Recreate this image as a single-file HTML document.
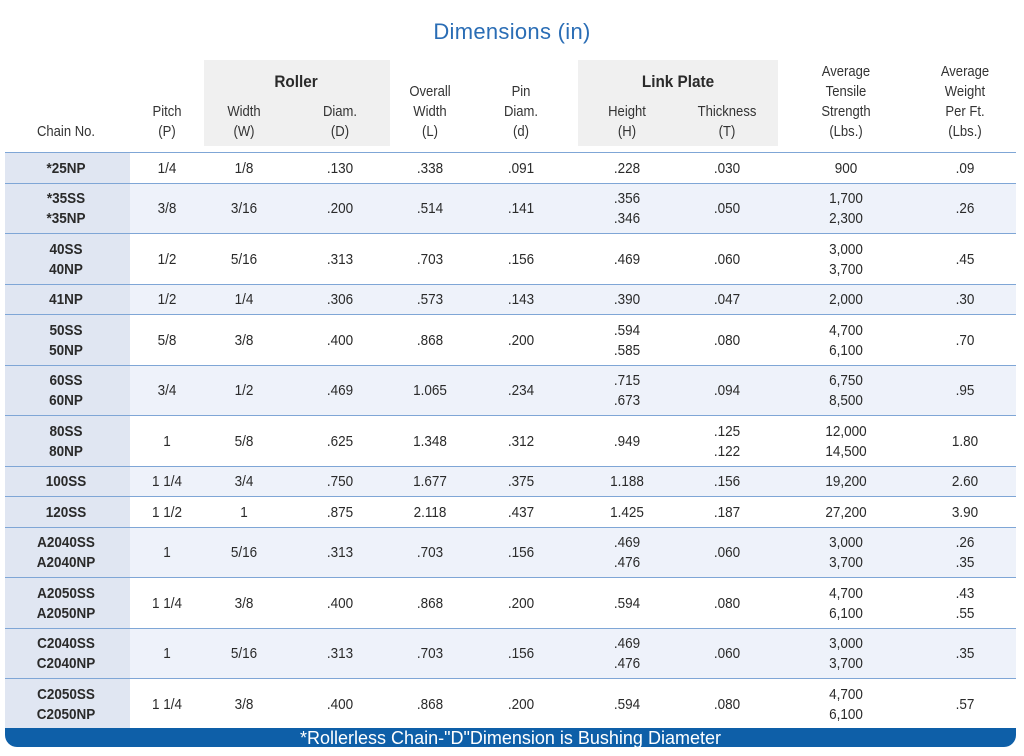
<!DOCTYPE html>
<html><head><meta charset="utf-8">
<style>
body{margin:0;width:1024px;height:756px;background:#fff;position:relative;overflow:hidden;font-family:"Liberation Sans",sans-serif;color:#2a2a2a}
.a{position:absolute}
.c{position:absolute;text-align:center;transform:translateX(-50%) scaleX(0.9);white-space:nowrap;font-size:15px;line-height:20px}
.h{color:#333;font-size:14.5px}
.row{position:absolute;left:5px;width:1011px;border-top:1.5px solid #7fa6d6;box-sizing:border-box}
.first{position:absolute;left:0;top:0;bottom:0;width:125px;background:#e0e6f2}
.b{font-weight:bold}
</style></head><body>
<div class="a" style="left:0;width:1024px;top:19px;text-align:center;font-size:22px;color:#2a6db5;letter-spacing:0.3px">Dimensions (in)</div>
<div class="a" style="left:204px;top:60px;width:186px;height:86px;background:#f0f0f0"></div>
<div class="a" style="left:578px;top:60px;width:200px;height:86px;background:#f0f0f0"></div>
<div class="c b" style="left:296px;top:72px;font-size:17px">Roller</div>
<div class="c b" style="left:678px;top:72px;font-size:17px">Link Plate</div>
<div id="hdr"></div>
<div id="rows"></div>
<div class="a" style="left:5px;top:728px;width:1011px;height:19px;background:#0e5fa8;border-radius:0 0 12px 12px;color:#fff;text-align:center;font-size:18px;line-height:21px">*Rollerless Chain-"D"Dimension is Bushing Diameter</div>
<script>
const centers=[66,167,244,340,430,521,627,727,846,965];
const headers=[["Chain No."],["Pitch","(P)"],["Width","(W)"],["Diam.","(D)"],["Overall","Width","(L)"],["Pin","Diam.","(d)"],["Height","(H)"],["Thickness","(T)"],["Average","Tensile","Strength","(Lbs.)"],["Average","Weight","Per Ft.","(Lbs.)"]];
const chains=[["*25NP"],["*35SS","*35NP"],["40SS","40NP"],["41NP"],["50SS","50NP"],["60SS","60NP"],["80SS","80NP"],["100SS"],["120SS"],["A2040SS","A2040NP"],["A2050SS","A2050NP"],["C2040SS","C2040NP"],["C2050SS","C2050NP"]];
const pitch=["1/4","3/8","1/2","1/2","5/8","3/4","1","1 1/4","1 1/2","1","1 1/4","1","1 1/4"];
const rwidth=["1/8","3/16","5/16","1/4","3/8","1/2","5/8","3/4","1","5/16","3/8","5/16","3/8"];
const rdiam=[".130",".200",".313",".306",".400",".469",".625",".750",".875",".313",".400",".313",".400"];
const overall=[".338",".514",".703",".573",".868","1.065","1.348","1.677","2.118",".703",".868",".703",".868"];
const pin=[".091",".141",".156",".143",".200",".234",".312",".375",".437",".156",".200",".156",".200"];
const height=[[".228"],[".356",".346"],[".469"],[".390"],[".594",".585"],[".715",".673"],[".949"],["1.188"],["1.425"],[".469",".476"],[".594"],[".469",".476"],[".594"]];
const thick=[[".030"],[".050"],[".060"],[".047"],[".080"],[".094"],[".125",".122"],[".156"],[".187"],[".060"],[".080"],[".060"],[".080"]];
const tensile=[["900"],["1,700","2,300"],["3,000","3,700"],["2,000"],["4,700","6,100"],["6,750","8,500"],["12,000","14,500"],["19,200"],["27,200"],["3,000","3,700"],["4,700","6,100"],["3,000","3,700"],["4,700","6,100"]];
const weight=[[".09"],[".26"],[".45"],[".30"],[".70"],[".95"],["1.80"],["2.60"],["3.90"],[".26",".35"],[".43",".55"],[".35"],[".57"]];
const hdr=document.getElementById('hdr');
headers.forEach((lines,i)=>{
  const d=document.createElement('div');
  
  
  d.className='c h';
  d.style.left=centers[i]+'px';
  d.style.top=(142-lines.length*20)+'px';
  d.innerHTML=lines.join('<br>');
  hdr.appendChild(d);
});
const rows=document.getElementById('rows');
let y=152;
chains.forEach((ch,r)=>{
  const cols=[ch,[pitch[r]],[rwidth[r]],[rdiam[r]],[overall[r]],[pin[r]],height[r],thick[r],tensile[r],weight[r]];
  const n=Math.max(...cols.map(c=>c.length));
  const h=n===2?50.5:30.5;
  const row=document.createElement('div');
  
  
  row.className='row';
  row.style.top=y+'px';row.style.height=h+'px';
  row.style.background=r%2?'#eef2fa':'#fff';
  const f=document.createElement('div');
  f.className='first';
  row.appendChild(f);
  cols.forEach((c,i)=>{
    const d=document.createElement('div');
    
    
    d.className='c'+(i===0?' b':'');
    d.style.left=(centers[i]-5)+'px';
    d.style.top=((h-1.5-c.length*20)/2+1)+'px';
    d.innerHTML=c.join('<br>');
    row.appendChild(d);
  });
  rows.appendChild(row);
  y+=h;
});
</script>
</body></html>
